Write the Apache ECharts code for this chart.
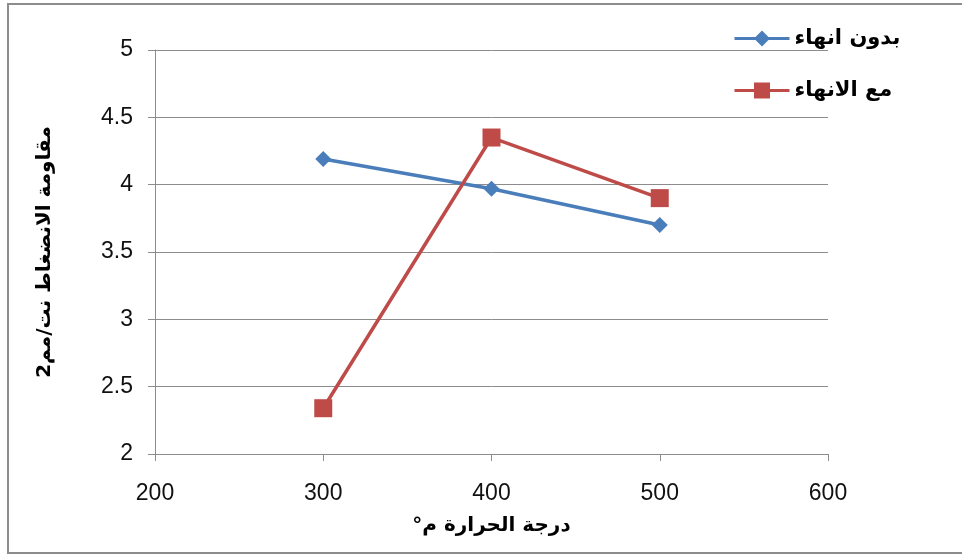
<!DOCTYPE html>
<html><head><meta charset="utf-8">
<script src="https://cdn.jsdelivr.net/npm/echarts@6/dist/echarts.min.js"></script>
<style>html,body{margin:0;padding:0;background:#fff}#c{width:962px;height:555px}</style>
</head><body><div id="c"></div>
<script>
const categories = [300, 400, 500];
const seriesNames = ['بدون انهاء', 'مع الانهاء'];
const withoutFinish = [4.19, 3.97, 3.70];
const withFinish = [2.34, 4.35, 3.90];
const xTicks = [200, 300, 400, 500, 600];
const yTicks = [2, 2.5, 3, 3.5, 4, 4.5, 5];
const xTitle = '\u200Fدرجة الحرارة م°\u200F';
const yTitle = '\u200Fمقاومة الانضغاط نت/مم2\u200F';

const chart = echarts.init(document.getElementById('c'));
const pairs = arr => categories.map((c, i) => [c, arr[i]]);
const arFont = '"DejaVu Sans", sans-serif';
const numFont = '"Liberation Sans", Arial, sans-serif';
const frame = {fill: 'none', stroke: '#8c8c8c', lineWidth: 2};
chart.setOption({
  animation: false,
  graphic: [
    {type: 'line', shape: {x1: 8, y1: 3, x2: 8, y2: 553}, style: frame, silent: true},
    {type: 'line', shape: {x1: 7, y1: 4, x2: 962, y2: 4}, style: frame, silent: true},
    {type: 'line', shape: {x1: 7, y1: 553, x2: 962, y2: 553}, style: frame, silent: true}
  ],
  grid: {left: 155, right: 134, top: 50, bottom: 101},
  legend: {
    orient: 'vertical', left: 728, top: 23, itemGap: 31, itemWidth: 55, itemHeight: 20,
    lineStyle: {width: 3},
    textStyle: {fontFamily: arFont, fontSize: 21, fontWeight: 'bold', color: '#000'},
    data: seriesNames
  },
  xAxis: {
    type: 'value', min: xTicks[0], max: xTicks[xTicks.length - 1], interval: 100,
    name: xTitle, nameLocation: 'middle', nameGap: 62,
    nameTextStyle: {fontFamily: arFont, fontSize: 20, fontWeight: 'bold', color: '#000'},
    axisLine: {show: true, lineStyle: {color: '#8c8c8c', width: 1}},
    axisTick: {show: true, length: 7, lineStyle: {color: '#8c8c8c'}},
    axisLabel: {fontFamily: numFont, fontSize: 23, color: '#111', margin: 28},
    splitLine: {show: false}
  },
  yAxis: {
    type: 'value', min: yTicks[0], max: yTicks[yTicks.length - 1], interval: 0.5,
    name: yTitle, nameLocation: 'middle', nameGap: 100, nameRotate: 90,
    nameTextStyle: {fontFamily: arFont, fontSize: 20, fontWeight: 'bold', color: '#000'},
    axisLine: {show: true, lineStyle: {color: '#8c8c8c', width: 1}},
    axisTick: {show: true, length: 7, lineStyle: {color: '#8c8c8c'}},
    axisLabel: {fontFamily: numFont, fontSize: 23, color: '#111', margin: 22},
    splitLine: {show: true, lineStyle: {color: '#8c8c8c', width: 1}}
  },
  series: [
    {name: seriesNames[0], type: 'line', data: pairs(withoutFinish), symbol: 'diamond', symbolSize: 16,
     lineStyle: {color: '#4a7ebb', width: 3.5}, itemStyle: {color: '#4a7ebb'}},
    {name: seriesNames[1], type: 'line', data: pairs(withFinish), symbol: 'rect', symbolSize: 18,
     lineStyle: {color: '#be4b48', width: 3.5}, itemStyle: {color: '#be4b48'}}
  ]
});
</script></body></html>
